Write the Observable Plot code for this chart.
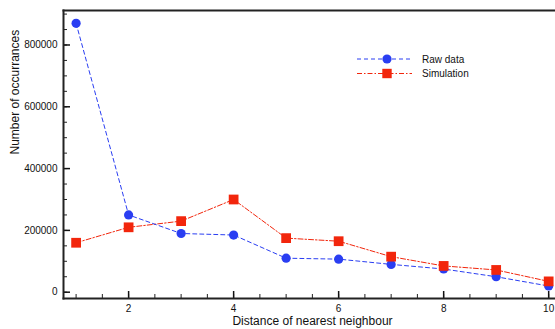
<!DOCTYPE html>
<html>
<head>
<meta charset="utf-8">
<script src="https://cdn.jsdelivr.net/npm/d3@7"></script>
<script src="https://cdn.jsdelivr.net/npm/@observablehq/plot@0.6"></script>
<style>
  html, body { margin: 0; padding: 0; background: #fff; }
  #wrap { position: relative; width: 555px; height: 329px; overflow: hidden; font-family: "Liberation Sans", Arial, sans-serif; }
  #legend { position: absolute; left: 352px; top: 50px; }
</style>
</head>
<body>
<div id="wrap"></div>
<script>
const distance = [1, 2, 3, 4, 5, 6, 7, 8, 9, 10];
const rawData = [870000, 250000, 190000, 185000, 110000, 107000, 90000, 75000, 50000, 20000];
const simulation = [160000, 210000, 230000, 300000, 175000, 165000, 115000, 85000, 72000, 35000];
const xTickLabels = [2, 4, 6, 8, 10];
const yTickLabels = [0, 200000, 400000, 600000, 800000];
const xMinorTicks = d3.range(1, 10.01, 0.5);
const yMinorTicks = d3.range(0, 900001, 50000);
const seriesNames = ["Raw data", "Simulation"];

const blue = "#2a3ef2";
const red = "#f2260c";

const raw = distance.map((d, i) => ({x: d, y: rawData[i]}));
const sim = distance.map((d, i) => ({x: d, y: simulation[i]}));

const W = 555, H = 329, mL = 63, mR = 0, mT = 10, mB = 31;
const plotW = W - mL - mR, plotH = H - mT - mB;

const chart = Plot.plot({
  width: W,
  height: H,
  marginLeft: mL,
  marginRight: mR,
  marginTop: mT,
  marginBottom: mB,
  style: {fontFamily: "'Liberation Sans', Arial, sans-serif", fontSize: "10px", color: "#111", background: "#fff"},
  x: {domain: [0.76, 10.13], axis: null},
  y: {domain: [-20400, 911600], axis: null},
  marks: [
    // minor ticks
    Plot.tickX(xMinorTicks, {x: d => d, insetTop: plotH - 4, stroke: "#222", strokeWidth: 1}),
    Plot.tickY(yMinorTicks, {y: d => d, insetRight: plotW - 4, stroke: "#222", strokeWidth: 1}),
    // major ticks
    Plot.tickX(xTickLabels, {x: d => d, insetTop: plotH - 7, stroke: "#111", strokeWidth: 1.5}),
    Plot.tickY(yTickLabels, {y: d => d, insetRight: plotW - 7, stroke: "#111", strokeWidth: 1.5}),
    // frame lines
    Plot.frame({anchor: "left", stroke: "#222", strokeWidth: 2}),
    Plot.frame({anchor: "bottom", stroke: "#222", strokeWidth: 2}),
    Plot.frame({anchor: "top", stroke: "#222", strokeWidth: 2}),
    // tick labels
    Plot.axisX({ticks: xTickLabels, tickSize: 0, tickPadding: 6, label: null, fontSize: 10}),
    Plot.axisY({ticks: yTickLabels, tickSize: 0, tickPadding: 6, label: null, tickFormat: d => String(d), fontSize: 10}),
    // axis titles
    Plot.text(["Distance of nearest neighbour"], {frameAnchor: "bottom", dy: 26, dx: 3, fontSize: 12, fill: "#111"}),
    Plot.text(["Number of occurrances"], {frameAnchor: "left", dx: -48, rotate: -90, fontSize: 12, fill: "#111"}),
    // series
    Plot.line(sim, {x: "x", y: "y", stroke: red, strokeWidth: 1, strokeDasharray: "5,2,1.5,2"}),
    Plot.line(raw, {x: "x", y: "y", stroke: blue, strokeWidth: 1, strokeDasharray: "4,3"}),
    Plot.dot(raw, {x: "x", y: "y", r: 4.6, fill: blue, stroke: "none"}),
    Plot.dot(sim, {x: "x", y: "y", r: 5.5, symbol: "square", fill: red, stroke: "none"})
  ]
});

const wrap = document.getElementById("wrap");
wrap.appendChild(chart);

// legend
const ns = "http://www.w3.org/2000/svg";
const lg = document.createElementNS(ns, "svg");
lg.setAttribute("id", "legend");
lg.setAttribute("width", 140);
lg.setAttribute("height", 34);
const items = [
  {name: seriesNames[0], color: blue, dash: "4,3", shape: "circle"},
  {name: seriesNames[1], color: red, dash: "5,2,1.5,2", shape: "square"}
];
items.forEach((it, i) => {
  const cy = 9 + i * 14.5;
  const line = document.createElementNS(ns, "line");
  line.setAttribute("x1", 5); line.setAttribute("x2", 60);
  line.setAttribute("y1", cy); line.setAttribute("y2", cy);
  line.setAttribute("stroke", it.color);
  line.setAttribute("stroke-width", 1);
  line.setAttribute("stroke-dasharray", it.dash);
  lg.appendChild(line);
  if (it.shape === "circle") {
    const c = document.createElementNS(ns, "circle");
    c.setAttribute("cx", 35); c.setAttribute("cy", cy); c.setAttribute("r", 4.6);
    c.setAttribute("fill", it.color);
    lg.appendChild(c);
  } else {
    const r = document.createElementNS(ns, "rect");
    r.setAttribute("x", 35 - 4.7); r.setAttribute("y", cy - 4.7);
    r.setAttribute("width", 9.4); r.setAttribute("height", 9.4);
    r.setAttribute("fill", it.color);
    lg.appendChild(r);
  }
  const t = document.createElementNS(ns, "text");
  t.setAttribute("x", 70); t.setAttribute("y", cy);
  t.setAttribute("dy", "0.35em");
  t.setAttribute("font-size", 10);
  t.setAttribute("font-family", "'Liberation Sans', Arial, sans-serif");
  t.setAttribute("fill", "#111");
  t.textContent = it.name;
  lg.appendChild(t);
});
wrap.appendChild(lg);
</script>
</body>
</html>
